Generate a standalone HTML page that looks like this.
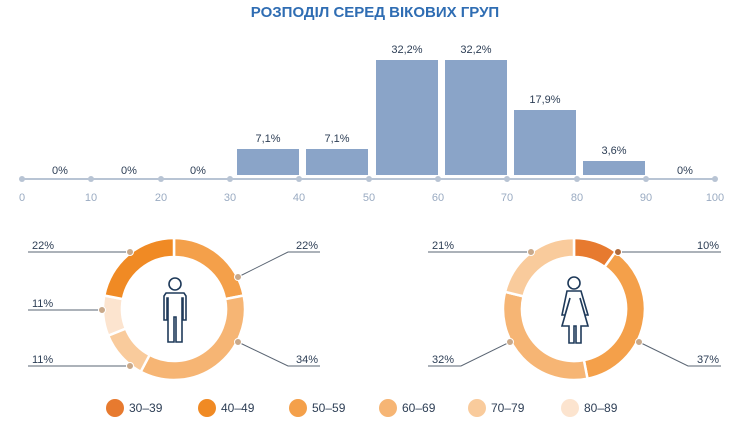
<!DOCTYPE html>
<html><head><meta charset="utf-8"><style>
body{margin:0;background:#fff;}
svg{display:block;font-family:"Liberation Sans",sans-serif;}
</style></head><body>
<svg width="751" height="422" viewBox="0 0 751 422">
<text x="375" y="17" text-anchor="middle" font-size="15" font-weight="bold" fill="#2f6db3">РОЗПОДІЛ СЕРЕД ВІКОВИХ ГРУП</text>
<g fill="#8aa4c8">
<rect x="237" y="149" width="62" height="26"/>
<rect x="306" y="149" width="62" height="26"/>
<rect x="376" y="60" width="62" height="115"/>
<rect x="445" y="60" width="62" height="115"/>
<rect x="514" y="110" width="62" height="65"/>
<rect x="583" y="161" width="62" height="14"/>
</g>
<line x1="20" y1="179" x2="717" y2="179" stroke="#b8c4d4" stroke-width="2"/>
<g fill="#b8c4d4">
<circle cx="22" cy="179" r="3"/><circle cx="91" cy="179" r="3"/><circle cx="161" cy="179" r="3"/><circle cx="230" cy="179" r="3"/><circle cx="299" cy="179" r="3"/><circle cx="369" cy="179" r="3"/><circle cx="438" cy="179" r="3"/><circle cx="507" cy="179" r="3"/><circle cx="577" cy="179" r="3"/><circle cx="646" cy="179" r="3"/><circle cx="715" cy="179" r="3"/>
</g>
<g font-size="11" fill="#9aabc2" text-anchor="middle">
<text x="22" y="201">0</text><text x="91" y="201">10</text><text x="161" y="201">20</text><text x="230" y="201">30</text><text x="299" y="201">40</text><text x="369" y="201">50</text><text x="438" y="201">60</text><text x="507" y="201">70</text><text x="577" y="201">80</text><text x="646" y="201">90</text><text x="715" y="201">100</text>
</g>
<g font-size="11" fill="#2d3e55" text-anchor="middle">
<text x="60" y="174">0%</text><text x="129" y="174">0%</text><text x="198" y="174">0%</text>
<text x="268" y="142">7,1%</text><text x="337" y="142">7,1%</text>
<text x="407" y="53">32,2%</text><text x="476" y="53">32,2%</text>
<text x="545" y="103">17,9%</text><text x="614" y="154">3,6%</text>
<text x="685" y="174">0%</text>
</g>
<!-- male donut -->
<g transform="translate(174,309)" stroke="#fff" stroke-width="2.5">
<path d="M0,-71 A71,71 0 0 1 69.7,-13.5 L51.1,-9.9 A52,52 0 0 0 0,-52Z" fill="#f4a04a"/>
<path d="M69.7,-13.5 A71,71 0 0 1 -33.3,62.7 L-24.4,45.9 A52,52 0 0 0 51.1,-9.9Z" fill="#f6b574"/>
<path d="M-33.3,62.7 A71,71 0 0 1 -65.8,26.6 L-48.2,19.5 A52,52 0 0 0 -24.4,45.9Z" fill="#f9cb9c"/>
<path d="M-65.8,26.6 A71,71 0 0 1 -69.7,-13.5 L-51.1,-9.9 A52,52 0 0 0 -48.2,19.5Z" fill="#fce4cf"/>
<path d="M-69.7,-13.5 A71,71 0 0 1 0,-71 L0,-52 A52,52 0 0 0 -51.1,-9.9Z" fill="#f08a24"/>
</g>
<!-- female donut -->
<g transform="translate(574,309)" stroke="#fff" stroke-width="2.5">
<path d="M0,-71 A71,71 0 0 1 41.7,-57.4 L30.6,-42.1 A52,52 0 0 0 0,-52Z" fill="#e77a2f"/>
<path d="M41.7,-57.4 A71,71 0 0 1 13.5,69.7 L9.9,51.1 A52,52 0 0 0 30.6,-42.1Z" fill="#f4a04a"/>
<path d="M13.5,69.7 A71,71 0 0 1 -68.9,-17.2 L-50.5,-12.6 A52,52 0 0 0 9.9,51.1Z" fill="#f6b574"/>
<path d="M-68.9,-17.2 A71,71 0 0 1 0,-71 L0,-52 A52,52 0 0 0 -50.5,-12.6Z" fill="#f9cb9c"/>
</g>
<!-- male icon -->
<g fill="none" stroke="#1f3a5a" stroke-width="1.6">
<circle cx="175" cy="284" r="6"/>
<path d="M166,293 h18 l2,3 v24 h-3 v-22 h-1 v44 h-6 v-25 h-2 v25 h-6 v-44 h-1 v22 h-3 v-24z"/>
<!-- female icon -->
<circle cx="574" cy="283" r="6"/>
<path d="M567,291 h14 l7,24 h-3 l-5,-17 l8,28 h-7 v17 h-5 v-17 h-2 v17 h-5 v-17 h-7 l8,-28 l-5,17 h-3z"/>
</g>
<!-- leader lines -->
<g stroke="#5a6573" stroke-width="1" fill="none">
<polyline points="28,252 130,252"/>
<polyline points="320,252 288,252 238,277"/>
<polyline points="28,310 102,310"/>
<polyline points="28,366 130,366"/>
<polyline points="320,366 288,366 238,342"/>
<polyline points="428,252 531,252"/>
<polyline points="721,252 618,252"/>
<polyline points="428,366 461,366 510,342"/>
<polyline points="721,366 688,366 639,342"/>
</g>
<g fill="#c9a98a" stroke="#fff" stroke-width="1">
<circle cx="130" cy="252" r="3.5"/><circle cx="238" cy="277" r="3.5"/><circle cx="102" cy="310" r="3.5"/><circle cx="130" cy="366" r="3.5"/><circle cx="238" cy="342" r="3.5"/>
<circle cx="531" cy="252" r="3.5"/><circle cx="618" cy="252" r="3.5" fill="#b06a3a"/><circle cx="510" cy="342" r="3.5"/><circle cx="639" cy="342" r="3.5"/>
</g>
<g font-size="11" fill="#2d3e55">
<text x="32" y="249">22%</text><text x="296" y="249">22%</text>
<text x="32" y="307">11%</text><text x="32" y="363">11%</text><text x="296" y="363">34%</text>
<text x="432" y="249">21%</text><text x="697" y="249">10%</text>
<text x="432" y="363">32%</text><text x="697" y="363">37%</text>
</g>
<!-- legend -->
<circle cx="115" cy="408" r="9" fill="#e77a2f"/>
<circle cx="207" cy="408" r="9" fill="#f08a24"/>
<circle cx="298" cy="408" r="9" fill="#f4a04a"/>
<circle cx="388" cy="408" r="9" fill="#f6b574"/>
<circle cx="477" cy="408" r="9" fill="#f9cb9c"/>
<circle cx="570" cy="408" r="9" fill="#fce4cf"/>
<g font-size="12" fill="#2d3e55">
<text x="129" y="412">30–39</text><text x="221" y="412">40–49</text><text x="312" y="412">50–59</text>
<text x="402" y="412">60–69</text><text x="491" y="412">70–79</text><text x="584" y="412">80–89</text>
</g>
</svg>
</body></html>
